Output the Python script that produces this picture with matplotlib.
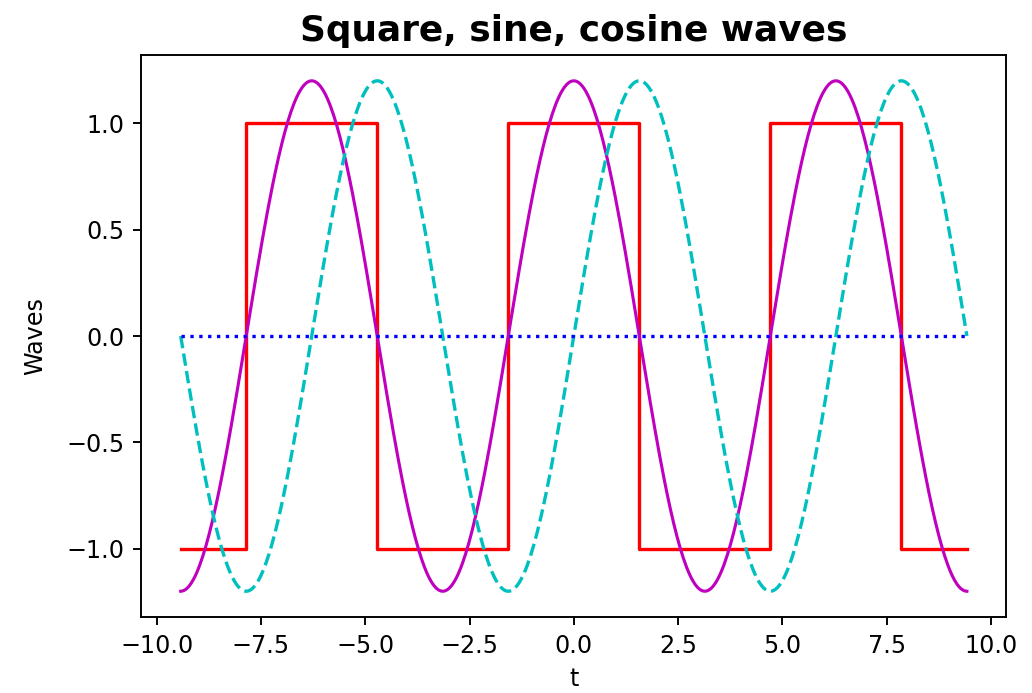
import numpy as np
import matplotlib
matplotlib.use("Agg")
import matplotlib.pyplot as plt

# Chart parameters
T_START = -3 * np.pi
T_END = 3 * np.pi
N_POINTS = 500
AMPLITUDE = 1.2
SQUARE_LEVEL = 1.0

# Square wave switch points (t) and levels
square_t = [-3 * np.pi, -2.5 * np.pi, -2.5 * np.pi, -1.5 * np.pi, -1.5 * np.pi,
            -0.5 * np.pi, -0.5 * np.pi, 0.5 * np.pi, 0.5 * np.pi, 1.5 * np.pi,
            1.5 * np.pi, 2.5 * np.pi, 2.5 * np.pi, 3 * np.pi]
square_y = [-1, -1, 1, 1, -1, -1, 1, 1, -1, -1, 1, 1, -1, -1]

zero_t = [T_START, T_END]
zero_y = [0, 0]


def plot_waves():
    t = np.linspace(T_START, T_END, N_POINTS)
    cos_wave = AMPLITUDE * np.cos(t)
    sin_wave = AMPLITUDE * np.sin(t)

    fig, ax = plt.subplots(figsize=(6.0, 4.03), dpi=172)
    ax.plot(square_t, [SQUARE_LEVEL * v for v in square_y], "r-", lw=1.4)
    ax.plot(t, cos_wave, "m-", lw=1.3)
    ax.plot(t, sin_wave, "c--", lw=1.4)
    ax.plot(zero_t, zero_y, "b:", lw=1.4)

    ax.set_xticks([-10, -7.5, -5, -2.5, 0, 2.5, 5, 7.5, 10])
    ax.set_yticks([-1.0, -0.5, 0.0, 0.5, 1.0])
    ax.set_xlabel("t")
    ax.set_ylabel("Waves", labelpad=8)
    ax.set_title("Square, sine, cosine waves", fontsize=15, fontweight="bold")

    fig.subplots_adjust(left=0.137, right=0.975, top=0.92, bottom=0.11)
    fig.savefig("out.png")


if __name__ == "__main__":
    plot_waves()
